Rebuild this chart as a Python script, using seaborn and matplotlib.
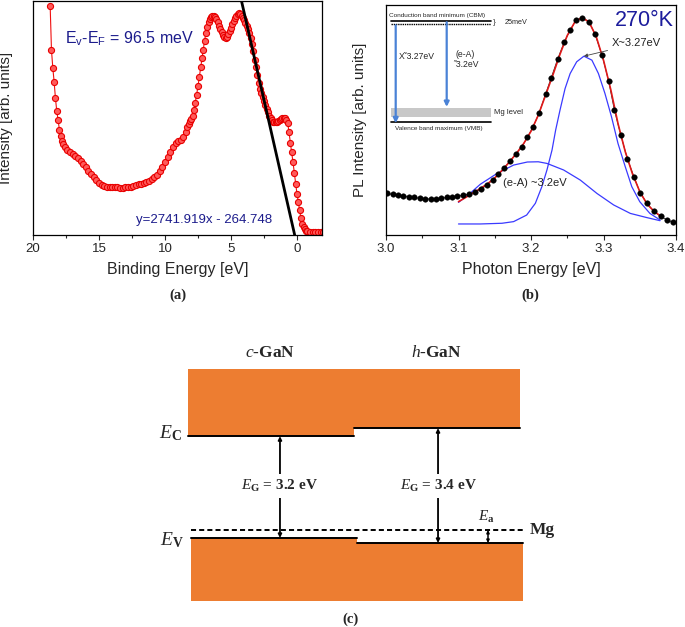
import matplotlib

matplotlib.use("Agg")
import matplotlib.pyplot as plt
import numpy as np
import seaborn as sns


# (a) valence band spectrum (binding energy in eV, intensity in arb. units)
binding_energy = [
    18.7, 18.6, 18.5, 18.4, 18.3, 18.2, 18.1, 18.0, 17.9, 17.8, 17.7, 17.6,
    17.4, 17.2, 17.0, 16.8, 16.6, 16.4, 16.2, 16.0, 15.8, 15.6, 15.4, 15.2,
    15.0, 14.8, 14.6, 14.4, 14.2, 14.0, 13.8, 13.6, 13.4, 13.2, 13.0, 12.8,
    12.6, 12.4, 12.2, 12.0, 11.8, 11.6, 11.4, 11.2, 11.0, 10.8, 10.6, 10.4,
    10.2, 10.0, 9.8, 9.6, 9.4, 9.2, 9.0, 8.8, 8.6, 8.4, 8.3, 8.2, 8.1, 8.0,
    7.9, 7.8, 7.7, 7.6, 7.5, 7.4, 7.3, 7.2, 7.1, 7.0, 6.9, 6.8, 6.7, 6.6,
    6.5, 6.4, 6.3, 6.2, 6.1, 6.0, 5.9, 5.8, 5.7, 5.6, 5.5, 5.4, 5.3, 5.2,
    5.1, 5.0, 4.9, 4.8, 4.7, 4.6, 4.5, 4.4, 4.3, 4.2, 4.1, 4.0, 3.9, 3.8,
    3.7, 3.6, 3.5, 3.4, 3.3, 3.2, 3.1, 3.0, 2.9, 2.8, 2.7, 2.6, 2.5, 2.4,
    2.3, 2.2, 2.1, 2.0, 1.9, 1.8, 1.7, 1.6, 1.5, 1.4, 1.3, 1.2, 1.1, 1.0,
    0.9, 0.8, 0.7, 0.6, 0.5, 0.4, 0.3, 0.2, 0.1, 0.0, -0.1, -0.2, -0.3,
    -0.4, -0.5, -0.6, -0.7, -0.8, -1.0, -1.2, -1.4, -1.6, -1.8, -2.0,
]
vb_intensity = [
    98.0, 79.0, 71.5, 65.5, 58.5, 53.0, 49.2, 45.0, 42.4, 40.3, 38.8, 37.6,
    36.4, 35.4, 34.5, 33.6, 32.7, 31.6, 30.3, 28.9, 27.5, 26.0, 24.6, 23.3,
    22.2, 21.3, 20.8, 20.6, 20.5, 20.4, 20.3, 20.3, 20.2, 20.2, 20.3, 20.3,
    20.5, 20.8, 21.2, 21.6, 21.9, 22.2, 22.6, 23.1, 23.8, 24.7, 25.8, 27.2,
    29.1, 31.1, 33.3, 35.5, 37.7, 39.2, 40.0, 40.6, 41.8, 44.0, 46.0, 47.5,
    48.6, 49.6, 51.0, 53.5, 56.6, 60.0, 63.5, 67.4, 71.6, 75.5, 79.2, 83.0,
    86.3, 89.0, 91.0, 92.4, 93.3, 93.6, 93.5, 93.0, 92.1, 90.9, 89.4, 87.9,
    86.6, 85.6, 84.8, 84.4, 84.7, 85.7, 87.0, 88.5, 90.1, 91.5, 92.7, 93.7,
    94.4, 94.8, 94.5, 93.7, 92.8, 91.8, 90.6, 89.5, 88.0, 86.2, 84.0, 81.6,
    78.5, 75.0, 71.7, 68.3, 64.8, 62.5, 60.5, 58.8, 57.2, 55.6, 54.0, 52.4,
    50.9, 49.8, 49.0, 48.5, 48.2, 48.2, 48.4, 48.8, 49.3, 49.7, 50.0, 50.1,
    49.8, 49.0, 47.8, 44.0, 39.5, 35.4, 31.2, 26.6, 21.8, 17.7, 14.3, 10.6,
    7.2, 4.8, 3.4, 2.5, 1.9, 1.6, 1.3, 1.2, 1.1, 1.1, 1.1, 1.1,
]
edge_fit_energy = [4.20, 0.17]
edge_fit_intensity = [100.0, 0.0]

# (b) PL spectrum at 270 K
pl_energy = [
    3.002, 3.009, 3.016, 3.024, 3.032, 3.039, 3.047, 3.054, 3.062, 3.069,
    3.076, 3.084, 3.091, 3.098, 3.106, 3.114, 3.123, 3.131, 3.139, 3.147,
    3.155, 3.163, 3.171, 3.179, 3.187, 3.195, 3.203, 3.211, 3.220, 3.228,
    3.237, 3.246, 3.254, 3.262, 3.271, 3.280, 3.288, 3.298, 3.307, 3.315,
    3.324, 3.333, 3.342, 3.351, 3.360, 3.369, 3.379, 3.388, 3.396,
]
pl_intensity = [
    17.7, 17.3, 17.0, 16.7, 16.3, 16.0, 15.6, 15.5, 15.3, 15.5,
    15.7, 16.0, 16.2, 16.5, 16.9, 17.4, 18.3, 19.4, 21.3, 23.4,
    25.8, 28.7, 31.5, 34.5, 37.4, 41.6, 46.2, 51.8, 60.0, 67.1,
    75.2, 82.3, 87.2, 91.5, 92.6, 90.8, 85.8, 76.6, 65.7, 53.2,
    42.4, 32.5, 24.8, 17.7, 13.6, 10.2, 7.9, 6.4, 5.4,
]
sum_fit_energy = [
    3.100, 3.110, 3.120, 3.130, 3.140, 3.150, 3.160, 3.170, 3.180, 3.190,
    3.200, 3.210, 3.220, 3.230, 3.240, 3.250, 3.260, 3.270, 3.280, 3.290,
    3.300, 3.310, 3.320, 3.330, 3.340, 3.350, 3.360, 3.370, 3.380,
]
sum_fit_intensity = [
    14.2, 16.0, 17.9, 19.8, 21.8, 24.3, 27.5, 31.0, 34.8, 39.0,
    44.2, 51.0, 59.5, 68.0, 77.0, 85.0, 90.5, 92.7, 90.8, 84.5,
    74.5, 62.0, 47.5, 35.5, 26.0, 18.5, 13.2, 10.0, 7.8,
]
exciton_energy = [
    3.100, 3.130, 3.160, 3.176, 3.194, 3.206, 3.215, 3.222, 3.229, 3.234,
    3.240, 3.247, 3.254, 3.263, 3.273, 3.284, 3.293, 3.302, 3.311, 3.320,
    3.330, 3.339, 3.350, 3.364, 3.378,
]
exciton_intensity = [
    4.7, 4.7, 5.0, 5.7, 8.5, 13.5, 20.6, 27.7, 36.2, 44.7,
    53.2, 62.4, 68.8, 73.8, 76.2, 74.5, 68.8, 60.3, 50.4, 39.0,
    29.1, 20.6, 14.2, 9.2, 6.4,
]
acceptor_energy = [
    3.100, 3.115, 3.130, 3.153, 3.176, 3.195, 3.210, 3.222, 3.245, 3.268,
    3.291, 3.314, 3.337, 3.360, 3.378,
]
acceptor_intensity = [
    13.9, 17.5, 21.6, 26.2, 29.8, 31.1, 31.2, 30.5, 27.7, 23.4,
    17.7, 12.8, 9.2, 7.4, 6.1,
]

# inset schematic of (b): level positions in eV-like units, VBM = 0
inset_cbm = 3.30
inset_exciton = 3.18
inset_mg_band = [0.16, 0.47]
inset_vbm = 0.0

# (c) band alignment of c-GaN / h-GaN
phases = ["c", "h"]
conduction_edge = [3.19, 3.43]
valence_edge = [0.15, 0.0]
gap_values = ["3.2", "3.4"]
mg_level = 0.39
band_top = 5.19
band_bottom = -1.73

W, H = 685, 627
fig = plt.figure(figsize=(W / 100, H / 100), dpi=100)
sns.set_style("ticks")
plt.rcParams["font.family"] = ["Liberation Sans", "DejaVu Sans"]
plt.rcParams["mathtext.fontset"] = "custom"
plt.rcParams["mathtext.rm"] = "Liberation Serif:bold"
plt.rcParams["mathtext.it"] = "Liberation Serif:italic"
plt.rcParams["mathtext.bf"] = "Liberation Serif:bold"
plt.rcParams["mathtext.sf"] = "Liberation Sans"


def px_axes(left, top, right, bottom):
    return fig.add_axes([left / W, 1 - bottom / H, (right - left) / W, (bottom - top) / H])


def style_spectrum_axes(ax):
    for side in ax.spines.values():
        side.set_visible(True)
        side.set_linewidth(0.9)
        side.set_color("black")
    ax.set_yticks([])
    ax.tick_params(axis="x", which="major", direction="out", length=3.5, width=0.8, labelsize=9.5, pad=2)
    ax.tick_params(axis="x", which="minor", direction="out", length=2.5, width=0.8)


# ---------- (a) ----------
ax_a = px_axes(33, 1, 322, 235)
sns.lineplot(x=edge_fit_energy, y=edge_fit_intensity, ax=ax_a, color="black", lw=2.0, zorder=3)
sns.lineplot(
    x=binding_energy, y=vb_intensity, ax=ax_a, sort=False, color="#f01010", lw=0.8,
    marker="o", markersize=4.4, markerfacecolor="#ff5a5a", markeredgecolor="#e80000",
    markeredgewidth=0.8, zorder=2,
)
ax_a.set_xlim(20, -1.9)
ax_a.set_ylim(0, 100)
ax_a.set_xticks([20, 15, 10, 5, 0])
ax_a.set_xticklabels(["20", "15", "10", "5", "0"])
ax_a.set_xticks([17.5, 12.5, 7.5, 2.5], minor=True)
style_spectrum_axes(ax_a)
ax_a.set_xlabel("Binding Energy [eV]", fontsize=11.5, labelpad=5)
ax_a.set_ylabel("Intensity [arb. units]", fontsize=11)
ax_a.yaxis.set_label_coords(-0.07, 0.5)
ax_a.text(17.6, 83.8, "E$_\\mathsf{v}$-E$_\\mathsf{F}$ = 96.5 meV", color="#1c1c8c",
          fontsize=11.5, ha="left", va="center")
ax_a.text(12.2, 6.4, "y=2741.919x - 264.748", color="#1c1c8c", fontsize=9.5, ha="left", va="center")

# ---------- (b) ----------
ax_b = px_axes(386, 5, 676, 235)
sns.lineplot(x=pl_energy, y=pl_intensity, ax=ax_b, color="#222222", lw=0.6, zorder=2)
sns.scatterplot(x=pl_energy, y=pl_intensity, ax=ax_b, color="black", s=16, edgecolor="black",
                linewidth=0.3, zorder=4)
sns.lineplot(x=exciton_energy, y=exciton_intensity, ax=ax_b, color="#3a3aff", lw=0.9, zorder=3)
sns.lineplot(x=acceptor_energy, y=acceptor_intensity, ax=ax_b, color="#3a3aff", lw=0.9, zorder=3)
sns.lineplot(x=sum_fit_energy, y=sum_fit_intensity, ax=ax_b, color="#e01818", lw=1.2, zorder=3)
ax_b.set_xlim(3.0, 3.4)
ax_b.set_ylim(0, 98)
ax_b.set_xticks([3.0, 3.1, 3.2, 3.3, 3.4])
ax_b.set_xticklabels(["3.0", "3.1", "3.2", "3.3", "3.4"])
ax_b.set_xticks([3.05, 3.15, 3.25, 3.35], minor=True)
style_spectrum_axes(ax_b)
ax_b.set_xlabel("Photon Energy [eV]", fontsize=11.5, labelpad=5)
ax_b.set_ylabel("PL Intensity [arb. units]", fontsize=11)
ax_b.yaxis.set_label_coords(-0.065, 0.5)
ax_b.text(3.397, 91.5, "270°K", color="#1c1c9c", fontsize=15.5, ha="right", va="center")
peak = int(np.argmax(exciton_intensity))
ax_b.annotate(
    "X~3.27eV", xy=(exciton_energy[peak], exciton_intensity[peak]), xytext=(3.312, 81.6),
    fontsize=8, color="#222222", ha="left", va="center",
    arrowprops=dict(arrowstyle="-|>", color="#444444", lw=0.6, mutation_scale=5, shrinkA=1, shrinkB=0),
)
ax_b.text(3.161, 22.1, "(e-A) ~3.2eV", fontsize=8, color="#222222", ha="left", va="center")

# inset level scheme
ax_i = px_axes(385, 0, 560, 140)
ax_i.set_xlim(-0.057, 1.693)
ax_i.set_ylim(-0.575, 3.97)
ax_i.axis("off")
ax_i.patch.set_alpha(0)
ax_i.fill_between([0, 1], inset_mg_band[0], inset_mg_band[1], color="#c8c8c8", lw=0)
ax_i.plot([0, 1], [inset_cbm, inset_cbm], color="black", lw=1.2)
ax_i.plot([0, 1], [inset_exciton, inset_exciton], color="black", lw=1.0, ls=(0, (1, 0.6)))
ax_i.plot([0, 1], [inset_vbm, inset_vbm], color="black", lw=1.2)
arrow_kw = dict(arrowstyle="-|>", color="#4a82d6", lw=1.6, mutation_scale=7, shrinkA=0, shrinkB=0)
ax_i.annotate("", xy=(0.05, inset_vbm - 0.03), xytext=(0.05, inset_exciton - 0.03), arrowprops=arrow_kw)
ax_i.annotate("", xy=(0.56, inset_mg_band[1] + 0.03), xytext=(0.56, inset_cbm - 0.05), arrowprops=arrow_kw)
ax_i.text(0.46, 3.48, "Conduction band minimum (CBM)", fontsize=4.6, ha="center", va="center")
ax_i.text(0.48, -0.19, "Valence band maximum (VMB)", fontsize=4.6, ha="center", va="center")
ax_i.text(1.03, 3.25, "}", fontsize=6, ha="center", va="center")
ax_i.text(1.14, 3.25, "25meV", fontsize=5.2, ha="left", va="center")
ax_i.text(1.03, 0.31, "Mg level", fontsize=5.6, ha="left", va="center")
ax_i.text(0.08, 2.13, "X˜3.27eV", fontsize=6.2, ha="left", va="center")
ax_i.text(0.74, 2.19, "(e-A)", fontsize=6.2, ha="center", va="center")
ax_i.text(0.75, 1.86, "˜3.2eV", fontsize=6.2, ha="center", va="center")

# ---------- (c) ----------
ax_c = px_axes(100, 300, 620, 627)
ax_c.set_xlim(-0.530, 2.602)
ax_c.set_ylim(-2.507, 7.254)
ax_c.axis("off")
orange = "#ED7D31"
lower_x = [[0.018, 1.016], [1.016, 2.018]]
for i, (ec, ev) in enumerate(zip(conduction_edge, valence_edge)):
    ax_c.fill_between([i, i + 1], ec, band_top, color=orange, lw=0)
    ax_c.fill_between(lower_x[i], band_bottom, ev, color=orange, lw=0)
    ax_c.plot([i, i + 1], [ec, ec], color="black", lw=1.4)
    ax_c.plot(lower_x[i], [ev, ev], color="black", lw=1.4)
ax_c.plot([0.018, 2.018], [mg_level, mg_level], color="black", lw=1.4, ls=(0, (2.6, 1.6)))

gap_x = [0.554, 1.506]
for i, x in enumerate(gap_x):
    ax_c.annotate("", xy=(x, valence_edge[i]), xytext=(x, conduction_edge[i]),
                  arrowprops=dict(arrowstyle="<|-|>", color="black", lw=1.3, mutation_scale=5,
                                  shrinkA=0, shrinkB=0))
    ax_c.text(x, 1.70, "$E_\\mathrm{G}$ = " + gap_values[i] + " eV", fontsize=11, fontweight="bold",
              family="Liberation Serif", ha="center", va="center",
              bbox=dict(facecolor="white", edgecolor="none", pad=2.5))
    ax_c.text(i + 0.494, 5.68, "$c$-GaN" if phases[i] == "c" else "$h$-GaN", fontsize=12.5,
              fontweight="bold", family="Liberation Serif", ha="center", va="center")
ax_c.annotate("", xy=(1.807, valence_edge[1]), xytext=(1.807, mg_level),
              arrowprops=dict(arrowstyle="<|-|>", color="black", lw=1.1, mutation_scale=4,
                              shrinkA=0, shrinkB=0))
ax_c.text(1.80, 0.78, "$E_\\mathrm{a}$", fontsize=11, ha="center", va="center")
ax_c.text(2.06, mg_level, "Mg", fontsize=12.5, fontweight="bold", family="Liberation Serif",
          ha="left", va="center")
ax_c.text(-0.108, conduction_edge[0] + 0.1, "$E_\\mathbf{C}$", fontsize=14, ha="center", va="center")
ax_c.text(-0.096, valence_edge[0] - 0.06, "$E_\\mathbf{V}$", fontsize=14, ha="center", va="center")

# panel labels
fig.text(178 / W, 1 - 295 / H, "(a)", fontsize=10.5, fontweight="bold", family="Liberation Serif",
         ha="center", va="center")
fig.text(530 / W, 1 - 295 / H, "(b)", fontsize=10.5, fontweight="bold", family="Liberation Serif",
         ha="center", va="center")
fig.text(350 / W, 1 - 619 / H, "(c)", fontsize=10.5, fontweight="bold", family="Liberation Serif",
         ha="center", va="center")

fig.savefig("out.png", dpi=100)
